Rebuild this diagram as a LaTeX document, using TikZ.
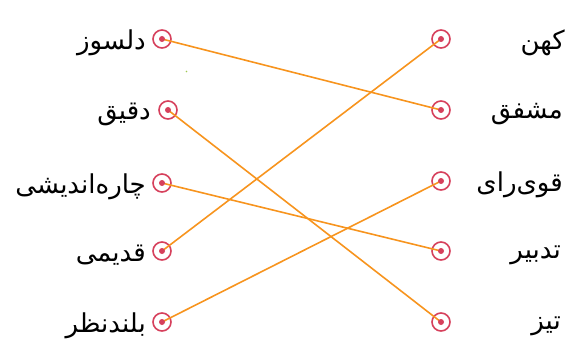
\documentclass[tikz,border=0pt]{standalone}
\usepackage{fontspec}
\newfontfamily\arabicfont[Script=Arabic]{DejaVu Sans}
\TeXXeTstate=1
\definecolor{ringc}{RGB}{214,64,92}
\definecolor{wirec}{RGB}{247,148,30}
\definecolor{speck}{RGB}{160,200,80}
\begin{document}
\begin{tikzpicture}[x=1pt,y=-1pt,
  dotnode/.style={circle,draw=ringc,line width=1.6pt,minimum size=18pt,inner sep=0pt},
  word/.style={font=\arabicfont\fontsize{26}{30}\selectfont,inner sep=0pt,text=black},
  wire/.style={draw=wirec,line width=1.6pt}]
\useasboundingbox (0,0) rectangle (573,342);
% left circles
\node[dotnode] (l1) at (162,39) {};
\node[dotnode] (l2) at (168,110) {};
\node[dotnode] (l3) at (162,183) {};
\node[dotnode] (l4) at (162,251) {};
\node[dotnode] (l5) at (162,322) {};
% right circles
\node[dotnode] (r1) at (441,39) {};
\node[dotnode] (r2) at (441,110) {};
\node[dotnode] (r3) at (441,181) {};
\node[dotnode] (r4) at (441,251) {};
\node[dotnode] (r5) at (441,322) {};
% left words
\node[word,anchor=east] (tl1) at (146,43) {\beginR دلسوز\endR};
\node[word,anchor=east] (tl2) at (151,114) {\beginR دقیق\endR};
\node[word,anchor=east] (tl3) at (146,187) {\beginR چاره‌اندیشی\endR};
\node[word,anchor=east] (tl4) at (146,255) {\beginR قدیمی\endR};
\node[word,anchor=east] (tl5) at (146,326) {\beginR بلندنظر\endR};
% right words
\node[word,anchor=east] (tr1) at (565,43) {\beginR کهن\endR};
\node[word,anchor=east] (tr2) at (563,114) {\beginR مشفق\endR};
\node[word,anchor=east] (tr3) at (563,185) {\beginR قوی‌رای\endR};
\node[word,anchor=east] (tr4) at (561,255) {\beginR تدبیر\endR};
\node[word,anchor=east] (tr5) at (561,326) {\beginR تیز\endR};
% connectors
\draw[wire] (l1.center) -- (r2.center);
\draw[wire] (l2.center) -- (r5.center);
\draw[wire] (l3.center) -- (r4.center);
\draw[wire] (l4.center) -- (r1.center);
\draw[wire] (l5.center) -- (r3.center);
% centre dots
\foreach \n in {l1,l2,l3,l4,l5,r1,r2,r3,r4,r5}
  \fill[ringc] (\n.center) circle (3pt);
% stray speck
\fill[speck] (186.5,71.5) circle (0.9pt);
\end{tikzpicture}
\end{document}
